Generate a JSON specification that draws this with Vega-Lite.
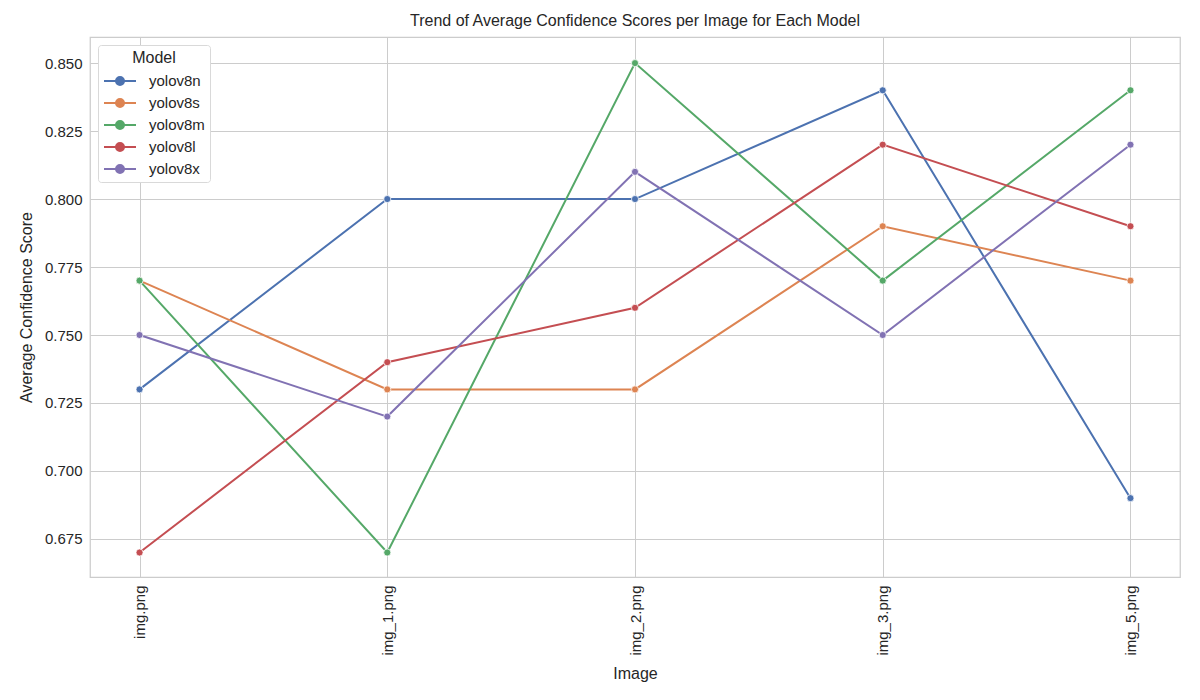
{
  "$schema": "https://vega.github.io/schema/vega-lite/v6.json",
  "autosize": "none",
  "width": 1090,
  "height": 540,
  "padding": {"left": 90, "top": 37, "right": 20, "bottom": 123},
  "background": "white",
  "title": {"text": "Trend of Average Confidence Scores per Image for Each Model", "fontSize": 16, "font": "Liberation Sans", "fontWeight": "normal", "color": "#262626", "offset": 8},
  "config": {
    "font": "Liberation Sans",
    "view": {"stroke": "#cccccc", "strokeWidth": 1.25},
    "axis": {"gridColor": "#cccccc", "gridWidth": 1, "domain": false, "ticks": false, "labelFontSize": 15, "labelColor": "#262626", "titleFontSize": 16, "titleFontWeight": "normal", "titleColor": "#262626", "labelPadding": 8}
  },
  "data": {"values": [
    {"image": "img.png", "model": "yolov8n", "score": 0.73},
    {"image": "img_1.png", "model": "yolov8n", "score": 0.80},
    {"image": "img_2.png", "model": "yolov8n", "score": 0.80},
    {"image": "img_3.png", "model": "yolov8n", "score": 0.84},
    {"image": "img_5.png", "model": "yolov8n", "score": 0.69},
    {"image": "img.png", "model": "yolov8s", "score": 0.77},
    {"image": "img_1.png", "model": "yolov8s", "score": 0.73},
    {"image": "img_2.png", "model": "yolov8s", "score": 0.73},
    {"image": "img_3.png", "model": "yolov8s", "score": 0.79},
    {"image": "img_5.png", "model": "yolov8s", "score": 0.77},
    {"image": "img.png", "model": "yolov8m", "score": 0.77},
    {"image": "img_1.png", "model": "yolov8m", "score": 0.67},
    {"image": "img_2.png", "model": "yolov8m", "score": 0.85},
    {"image": "img_3.png", "model": "yolov8m", "score": 0.77},
    {"image": "img_5.png", "model": "yolov8m", "score": 0.84},
    {"image": "img.png", "model": "yolov8l", "score": 0.67},
    {"image": "img_1.png", "model": "yolov8l", "score": 0.74},
    {"image": "img_2.png", "model": "yolov8l", "score": 0.76},
    {"image": "img_3.png", "model": "yolov8l", "score": 0.82},
    {"image": "img_5.png", "model": "yolov8l", "score": 0.79},
    {"image": "img.png", "model": "yolov8x", "score": 0.75},
    {"image": "img_1.png", "model": "yolov8x", "score": 0.72},
    {"image": "img_2.png", "model": "yolov8x", "score": 0.81},
    {"image": "img_3.png", "model": "yolov8x", "score": 0.75},
    {"image": "img_5.png", "model": "yolov8x", "score": 0.82}
  ]},
  "encoding": {
    "x": {"field": "image", "type": "nominal", "sort": ["img.png", "img_1.png", "img_2.png", "img_3.png", "img_5.png"],
      "scale": {"type": "point", "padding": 0.2},
      "axis": {"title": "Image", "labelAngle": -90, "grid": true, "titlePadding": 10}},
    "y": {"field": "score", "type": "quantitative",
      "scale": {"domain": [0.661, 0.8596], "nice": false, "zero": false},
      "axis": {"title": "Average Confidence Score", "values": [0.675, 0.7, 0.725, 0.75, 0.775, 0.8, 0.825, 0.85], "format": ".3f", "titlePadding": 10}},
    "color": {"field": "model", "type": "nominal", "sort": ["yolov8n", "yolov8s", "yolov8m", "yolov8l", "yolov8x"],
      "scale": {"domain": ["yolov8n", "yolov8s", "yolov8m", "yolov8l", "yolov8x"], "range": ["#4c72b0", "#dd8452", "#55a868", "#c44e52", "#8172b3"]},
      "legend": {"title": "Model", "orient": "top-left", "offset": 8, "fillColor": "white", "strokeColor": "#d9d9d9", "cornerRadius": 3, "padding": 5,
        "titleFontSize": 16, "titleFontWeight": "normal", "titleColor": "#262626", "titleAnchor": "middle", "titlePadding": 6,
        "labelFontSize": 15, "labelColor": "#262626", "rowPadding": 5, "labelOffset": 20, "symbolOffset": 8,
        "symbolType": "M-2,0H2M-0.5,0A0.5,0.5 0 1,0 0.5,0A0.5,0.5 0 1,0 -0.5,0Z", "symbolSize": 256, "symbolStrokeWidth": 2,
        "encode": {"symbols": {"update": {"fill": {"scale": "color", "field": "value"}}}}}}
  },
  "layer": [
    {"mark": {"type": "line", "strokeWidth": 2}},
    {"mark": {"type": "point", "filled": true, "size": 50, "opacity": 1, "stroke": "white", "strokeWidth": 0.75}}
  ]
}
